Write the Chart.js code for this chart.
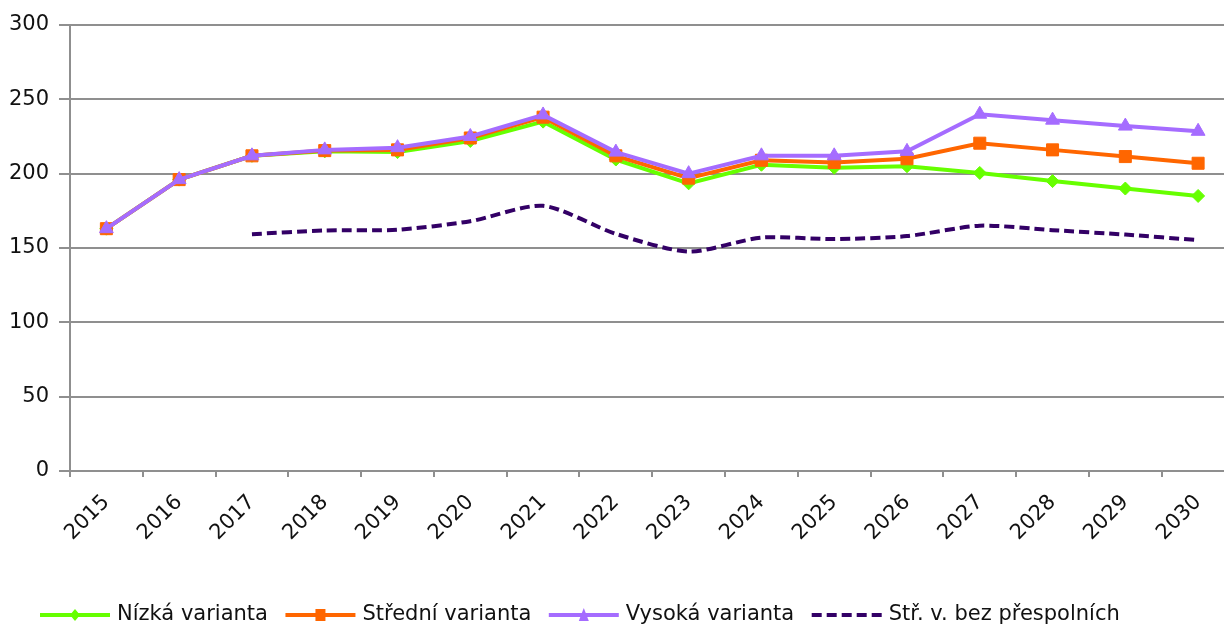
<!DOCTYPE html>
<html>
<head>
<meta charset="utf-8">
<script src="https://cdn.jsdelivr.net/npm/chart.js@4.4.1/dist/chart.umd.min.js"></script>
<style>
  html, body { margin: 0; padding: 0; background: #ffffff; overflow: hidden; }
  #wrap { position: relative; width: 1244px; height: 628px; }
  canvas { display: block; }
</style>
</head>
<body>
<div id="wrap"><canvas id="c" width="1244" height="628"></canvas></div>
<script>
const years = ['2015','2016','2017','2018','2019','2020','2021','2022','2023','2024','2025','2026','2027','2028','2029','2030'];
const nizka   = [163, 196, 212, 215, 214.5, 222, 235, 209.5, 193.5, 206, 204, 205, 200.5, 195, 190, 185];
const stredni = [163, 196, 212, 215.5, 216, 224, 238, 212, 197, 209, 207.5, 210, 220.5, 216, 211.5, 207];
const vysoka  = [163, 196, 212, 216, 217.5, 225, 239.5, 214.5, 200, 212, 212, 215, 240, 236, 232, 228.5];
const bezPresp = [null, null, 159.3, 161.8, 162.3, 168, 178.4, 159.5, 147.6, 157, 156, 158, 165, 162, 159, 155.3];
const seriesLabels = ['Nízká varianta', 'Střední varianta', 'Vysoká varianta', 'Stř. v. bez přespolních'];
const yTicks = [0, 50, 100, 150, 200, 250, 300];

const FONT = "'DejaVu Sans', Verdana, sans-serif";
const GRID = '#8f8f8f';

const legendPlugin = {
  id: 'customLegend',
  afterDraw(chart) {
    const ctx = chart.ctx;
    ctx.save();
    ctx.font = '21px ' + FONT;
    ctx.textBaseline = 'middle';
    let x = 40;
    const y = 615;
    chart.data.datasets.forEach((ds) => {
      ctx.save();
      ctx.strokeStyle = ds.borderColor;
      ctx.lineWidth = ds.borderWidth;
      ctx.setLineDash(ds.borderDash || []);
      ctx.beginPath();
      ctx.moveTo(x, y);
      ctx.lineTo(x + 70, y);
      ctx.stroke();
      ctx.setLineDash([]);
      ctx.fillStyle = ds.borderColor;
      const cx = x + 35;
      if (ds.pointStyle === 'rectRot') {
        ctx.beginPath();
        ctx.moveTo(cx, y - 6); ctx.lineTo(cx + 5, y); ctx.lineTo(cx, y + 6); ctx.lineTo(cx - 5, y);
        ctx.closePath(); ctx.fill();
      } else if (ds.pointStyle === 'rect') {
        ctx.fillRect(cx - 5, y - 6, 10, 12);
      } else if (ds.pointStyle === 'triangle') {
        ctx.beginPath();
        ctx.moveTo(cx, y - 7); ctx.lineTo(cx + 5, y + 6); ctx.lineTo(cx - 5, y + 6);
        ctx.closePath(); ctx.fill();
      }
      ctx.restore();
      ctx.fillStyle = '#111111';
      ctx.fillText(ds.label, x + 77, y);
      x += 77 + ctx.measureText(ds.label).width + 17.5;
    });
    ctx.restore();
  }
};

new Chart(document.getElementById('c'), {
  type: 'line',
  data: {
    labels: years,
    datasets: [
      { label: seriesLabels[0], data: nizka, borderColor: '#66ff00', backgroundColor: '#66ff00',
        borderWidth: 4, pointStyle: 'rectRot', pointRadius: 6.5, pointBorderWidth: 1, pointBorderColor: '#66ff00', order: 4, tension: 0 },
      { label: seriesLabels[1], data: stredni, borderColor: '#ff6600', backgroundColor: '#ff6600',
        borderWidth: 4, pointStyle: 'rect', pointRadius: 8.5, pointBorderWidth: 1, pointBorderColor: '#ff6600', order: 3, tension: 0 },
      { label: seriesLabels[2], data: vysoka, borderColor: '#a56cff', backgroundColor: '#a56cff',
        borderWidth: 4, pointStyle: 'triangle', pointRadius: 8, pointBorderWidth: 1, pointBorderColor: '#a56cff', order: 2, tension: 0 },
      { label: seriesLabels[3], data: bezPresp, borderColor: '#330066', backgroundColor: '#330066',
        borderWidth: 4, borderDash: [10, 5], pointRadius: 0, order: 1, tension: 0.25, spanGaps: false }
    ]
  },
  options: {
    responsive: false,
    animation: false,
    devicePixelRatio: 1,
    layout: { padding: { top: 25, right: 3, left: 0, bottom: 0 } },
    plugins: { legend: { display: false }, tooltip: { enabled: false } },
    scales: {
      x: {
        type: 'category',
        offset: true,
        grid: { offset: true, drawOnChartArea: false, drawTicks: true, tickLength: 6, color: GRID, lineWidth: 2 },
        border: { display: true, color: GRID, width: 2 },
        ticks: { minRotation: 45, maxRotation: 45, autoSkip: false, color: '#111111', font: { family: FONT, size: 21 }, padding: 13 },
        afterFit(scale) { scale.height = 157; }
      },
      y: {
        min: 0, max: 300,
        afterBuildTicks(scale) { scale.ticks = yTicks.map(v => ({ value: v })); },
        grid: { color: GRID, lineWidth: 2, drawTicks: true, tickLength: 11 },
        border: { display: true, color: GRID, width: 2 },
        ticks: { color: '#111111', font: { family: FONT, size: 21 }, padding: 10 },
        afterFit(scale) { scale.width = 70; }
      }
    }
  },
  plugins: [legendPlugin]
});
</script>
</body>
</html>
